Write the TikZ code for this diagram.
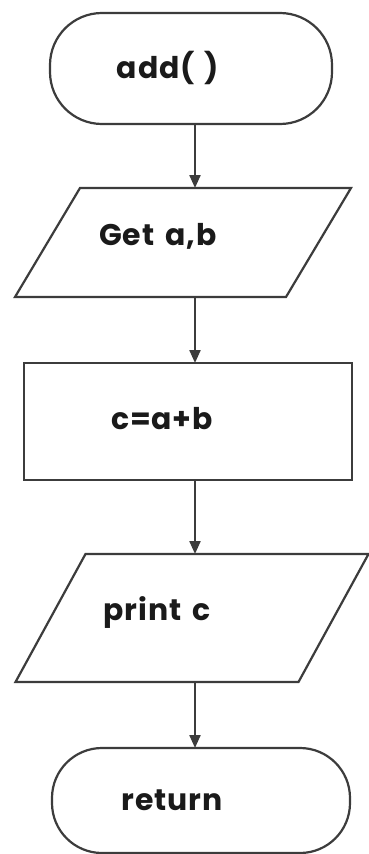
\documentclass[tikz,border=0pt]{standalone}
\usepackage{fontspec}
\setmainfont{Poppins}[LetterSpace=3]
\usetikzlibrary{arrows.meta}
\definecolor{edge}{HTML}{3C3C3C}
\definecolor{ink}{HTML}{1A1A1A}
\tikzset{
  box/.style={draw=edge, line width=2.2bp, fill=white, inner sep=0pt},
  term/.style={box, rounded corners=52bp},
  txt/.style={text=ink, font=\fontsize{30}{34}\selectfont\bfseries, inner sep=0pt, anchor=center},
  frame/.style={inner sep=0pt, outer sep=0pt, minimum width=#1},
  flow/.style={draw=edge, line width=2.2bp, -{Triangle[length=13bp,width=11bp]}},
}
\begin{document}
\begin{tikzpicture}[x=1bp,y=-1bp]
\useasboundingbox (0,0) rectangle (368,854);
\fill[white] (0,0) rectangle (368,854);
% spine x for connectors
\coordinate (sp) at (195,0);
% terminator 1
\node[frame=282bp, minimum height=111bp] (t1) at (191,68.5) {};
\draw[term] (t1.south west) rectangle (t1.north east);
\node[txt] (t1t) at (168,68) {add(\,\,)};
% parallelogram 1
\node[frame=271bp, minimum height=109bp] (p1) at (183,242.5) {};
\draw[box] ([xshift=-32.5bp]p1.south west) -- ([xshift=-32.5bp]p1.south east)
  -- ([xshift=32.5bp]p1.north east) -- ([xshift=32.5bp]p1.north west) -- cycle;
\node[txt] (p1t) at (158,236) {Get\hspace{4bp} a,\hspace{1bp}b};
% rectangle
\node[frame=328bp, minimum height=117bp, box] (r1) at (188,421.5) {};
\node[txt] (r1t) at (162,419) {c=a+b};
% parallelogram 2
\node[frame=283bp, minimum height=128bp] (p2) at (192,618) {};
\draw[box] ([xshift=-35bp]p2.south west) -- ([xshift=-35bp]p2.south east)
  -- ([xshift=35bp]p2.north east) -- ([xshift=35bp]p2.north west) -- cycle;
\node[txt] (p2t) at (157,612) {print\hspace{4bp} c};
% terminator 2
\node[frame=298bp, minimum height=105bp] (t2) at (201,800.5) {};
\draw[term, rounded corners=50bp] (t2.south west) rectangle (t2.north east);
\node[txt] (t2t) at (172,800) {return};
% connectors
\draw[flow] (t1.south -| sp) -- (p1.north -| sp);
\draw[flow] (p1.south -| sp) -- (r1.north -| sp);
\draw[flow] (r1.south -| sp) -- (p2.north -| sp);
\draw[flow] (p2.south -| sp) -- (t2.north -| sp);
\end{tikzpicture}
\end{document}
